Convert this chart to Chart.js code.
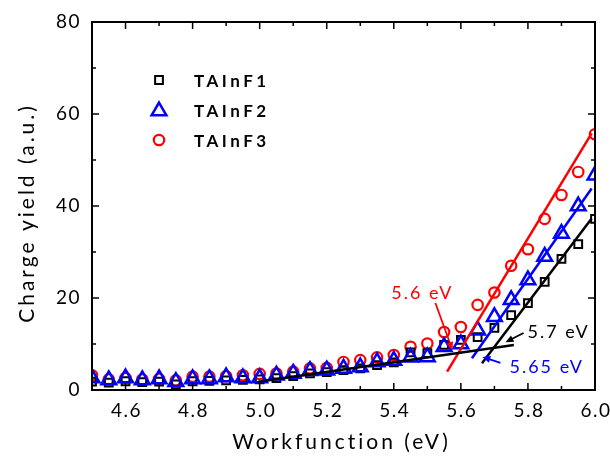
<!DOCTYPE html>
<html><head><meta charset="utf-8">
<script src="https://cdn.jsdelivr.net/npm/chart.js@4/dist/chart.umd.min.js"></script>
<style>html,body{margin:0;padding:0;background:#fff}#wrap{width:610px;height:463px}</style>
</head><body><div id="wrap"><canvas id="c" width="610" height="463"></canvas></div>
<script>
// ---------- data ----------
const workfunction = [4.50,4.55,4.60,4.65,4.70,4.75,4.80,4.85,4.90,4.95,5.00,5.05,5.10,5.15,5.20,5.25,5.30,5.35,5.40,5.45,5.50,5.55,5.60,5.65,5.70,5.75,5.80,5.85,5.90,5.95,6.00];
const tainf1 = [1.8,1.6,1.9,1.7,1.8,1.2,1.9,2.0,2.1,2.2,2.3,2.6,3.0,3.6,3.9,4.3,4.7,5.4,6.0,8.2,8.0,9.8,10.9,11.5,13.5,16.3,18.9,23.5,28.5,31.7,37.2];
const tainf2 = [2.6,2.2,2.6,2.2,2.4,1.8,2.4,2.4,2.8,2.6,2.6,3.2,3.6,4.2,4.3,4.7,5.0,6.1,6.4,7.1,7.2,9.4,10.0,13.0,15.9,19.6,23.9,29.0,34.0,40.0,46.7];
const tainf3 = [3.2,2.3,2.6,2.3,2.4,2.1,2.9,2.9,3.0,3.2,3.5,3.6,4.0,4.7,4.8,6.1,6.5,7.1,7.6,9.4,10.1,12.6,13.7,18.5,21.2,27.0,30.6,37.2,42.4,47.4,55.6];
const seriesNames = ['TAInF1','TAInF2','TAInF3'];
// fitted straight lines: [x0, y0, x1, y1]
const fitBaseline = [4.996, 1.8, 5.758, 9.8];
const fitTAInF1 = [5.663, 5.8, 5.99, 37.3];
const fitTAInF2 = [5.633, 6.9, 5.99, 43.8];
const fitTAInF3 = [5.559, 4.0, 5.99, 55.8];
// annotations: text, text x, text y, arrow tail x/y, arrow tip x/y
const annoTexts = ['5.6 eV', '5.7 eV', '5.65 eV'];
const annoTextPos = [[5.485, 21.1], [5.799, 12.6], [5.745, 5.0]];
const annoArrows = [[5.524, 18.9, 5.575, 8.7], [5.787, 12.4, 5.733, 10.4], [5.718, 5.9, 5.664, 7.2]];
const xMajorTicks = [4.6,4.8,5.0,5.2,5.4,5.6,5.8,6.0];
const xMinorTicks = [4.5,4.7,4.9,5.1,5.3,5.5,5.7,5.9];
const yMajorTicks = [0,20,40,60,80];
const yMinorTicks = [10,30,50,70];
const xTitle = 'Workfunction (eV)';
const yTitle = 'Charge yield (a.u.)';

// ---------- styles ----------
const COLORS = ['#000000', '#0000ff', '#ff0000'];
const FONT = 'Lato, "Open Sans", sans-serif';

function pts(ys) { return workfunction.map((x, i) => ({x, y: ys[i]})); }
function seg(a) { return [{x: a[0], y: a[1]}, {x: a[2], y: a[3]}]; }
function lineDs(a, color) {
  return {data: seg(a), showLine: true, borderColor: color, borderWidth: 2.5, pointRadius: 0, order: 0, clip: 0};
}

const markerStyles = [
  {pointStyle: 'rect', pointRadius: 5.5, pointBorderWidth: 2},
  {pointStyle: 'triangle', pointRadius: 8.5, pointBorderWidth: 2.5},
  {pointStyle: 'circle', pointRadius: 5.2, pointBorderWidth: 2.2}
];

const datasets = [
  lineDs(fitBaseline, '#000'),
  lineDs(fitTAInF1, '#000'),
  lineDs(fitTAInF2, '#0000ff'),
  lineDs(fitTAInF3, '#ff0000'),
  Object.assign({label: seriesNames[0], data: pts(tainf1), showLine: false, borderColor: COLORS[0], backgroundColor: 'transparent', order: 2, clip: 0}, markerStyles[0]),
  Object.assign({label: seriesNames[1], data: pts(tainf2), showLine: false, borderColor: COLORS[1], backgroundColor: 'transparent', order: 1, clip: 0}, markerStyles[1]),
  Object.assign({label: seriesNames[2], data: pts(tainf3), showLine: false, borderColor: COLORS[2], backgroundColor: 'transparent', order: 3, clip: 0}, markerStyles[2])
];

function drawMarker(ctx, style, r, x, y) {
  ctx.beginPath();
  if (style === 'rect') {
    const s = Math.SQRT1_2 * r;
    ctx.rect(x - s, y - s, 2 * s, 2 * s);
  } else if (style === 'triangle') {
    ctx.moveTo(x, y - r);
    ctx.lineTo(x + r * Math.sin(2 * Math.PI / 3), y + r / 2);
    ctx.lineTo(x - r * Math.sin(2 * Math.PI / 3), y + r / 2);
    ctx.closePath();
  } else {
    ctx.arc(x, y, r, 0, Math.PI * 2);
  }
  ctx.stroke();
}

function arrow(ctx, x0, y0, x1, y1, color) {
  const ang = Math.atan2(y1 - y0, x1 - x0);
  const L = 8, W = 3.5;
  ctx.strokeStyle = color; ctx.fillStyle = color; ctx.lineWidth = 1.8;
  ctx.beginPath();
  ctx.moveTo(x0, y0);
  ctx.lineTo(x1 - Math.cos(ang) * L * 0.8, y1 - Math.sin(ang) * L * 0.8);
  ctx.stroke();
  ctx.beginPath();
  ctx.moveTo(x1, y1);
  ctx.lineTo(x1 - Math.cos(ang) * L - Math.sin(ang) * W, y1 - Math.sin(ang) * L + Math.cos(ang) * W);
  ctx.lineTo(x1 - Math.cos(ang) * L + Math.sin(ang) * W, y1 - Math.sin(ang) * L - Math.cos(ang) * W);
  ctx.closePath();
  ctx.fill();
}

const framePlugin = {
  id: 'frame',
  afterDraw(chart) {
    const {ctx, chartArea: a, scales: {x, y}} = chart;
    ctx.save();
    // frame
    ctx.strokeStyle = '#000'; ctx.lineWidth = 2;
    ctx.strokeRect(a.left, a.top, a.right - a.left, a.bottom - a.top);
    // ticks (inward, on all four sides)
    ctx.lineWidth = 1.5;
    ctx.beginPath();
    const xt = (v, len) => { const px = x.getPixelForValue(v);
      ctx.moveTo(px, a.bottom); ctx.lineTo(px, a.bottom - len);
      ctx.moveTo(px, a.top); ctx.lineTo(px, a.top + len); };
    const yt = (v, len) => { const py = y.getPixelForValue(v);
      ctx.moveTo(a.left, py); ctx.lineTo(a.left + len, py);
      ctx.moveTo(a.right, py); ctx.lineTo(a.right - len, py); };
    xMajorTicks.forEach(v => xt(v, 7)); xMinorTicks.forEach(v => xt(v, 4));
    yMajorTicks.forEach(v => yt(v, 7)); yMinorTicks.forEach(v => yt(v, 4));
    ctx.stroke();
    // tick labels
    ctx.fillStyle = '#000';
    ctx.font = '19px ' + FONT;
    ctx.letterSpacing = '1.5px';
    ctx.textBaseline = 'middle';
    ctx.textAlign = 'center';
    xMajorTicks.forEach(v => ctx.fillText(v.toFixed(1), x.getPixelForValue(v) + 1, a.bottom + 21));
    ctx.textAlign = 'right';
    yMajorTicks.forEach(v => ctx.fillText(String(v), a.left - 11, y.getPixelForValue(v)));
    // axis titles
    ctx.font = '21px ' + FONT;
    ctx.letterSpacing = '3px';
    ctx.textAlign = 'center';
    ctx.fillText(xTitle, (a.left + a.right) / 2 - 2, 442);
    ctx.save();
    ctx.translate(27, 213);
    ctx.rotate(-Math.PI / 2);
    ctx.fillText(yTitle, 0, 0);
    ctx.restore();
    // legend
    const legY = [80, 110, 140];
    ctx.font = 'bold 17px ' + FONT;
    ctx.letterSpacing = '3.5px';
    ctx.textAlign = 'left';
    seriesNames.forEach((name, i) => {
      const ds = chart.data.datasets[4 + i];
      ctx.strokeStyle = ds.borderColor; ctx.lineWidth = ds.pointBorderWidth;
      drawMarker(ctx, ds.pointStyle, ds.pointRadius, 159, legY[i] + (i === 1 ? 1 : 0));
      ctx.fillStyle = '#000';
      ctx.fillText(name, 194, legY[i] + 2);
    });
    // annotations
    const annoColors = ['#ff0000', '#000000', '#0000ff'];
    ctx.font = '18px ' + FONT;
    ctx.letterSpacing = '2px';
    annoTexts.forEach((t, i) => {
      const ar = annoArrows[i];
      arrow(ctx, x.getPixelForValue(ar[0]), y.getPixelForValue(ar[1]), x.getPixelForValue(ar[2]), y.getPixelForValue(ar[3]), annoColors[i]);
      ctx.fillStyle = annoColors[i];
      ctx.textAlign = i === 0 ? 'center' : 'left';
      ctx.fillText(t, x.getPixelForValue(annoTextPos[i][0]), y.getPixelForValue(annoTextPos[i][1]));
    });
    ctx.restore();
  }
};

new Chart(document.getElementById('c'), {
  type: 'scatter',
  data: {datasets},
  options: {
    responsive: false,
    animation: false,
    devicePixelRatio: 1,
    layout: {padding: {left: 92, right: 15, top: 22, bottom: 73}},
    plugins: {legend: {display: false}, tooltip: {enabled: false}},
    scales: {
      x: {type: 'linear', min: 4.5, max: 6.0, display: false},
      y: {type: 'linear', min: 0, max: 80, display: false}
    }
  },
  plugins: [framePlugin]
});
</script>
</body></html>
